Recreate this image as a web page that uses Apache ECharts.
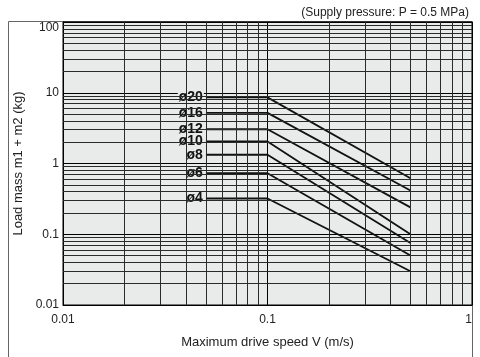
<!DOCTYPE html>
<html>
<head>
<meta charset="utf-8">
<script src="https://cdn.jsdelivr.net/npm/echarts@6/dist/echarts.min.js"></script>
<style>
html, body { margin: 0; padding: 0; background: #fff; }
#chart { width: 480px; height: 357px; }
</style>
</head>
<body>
<div id="chart"></div>
<script>
// speeds where each curve bends (m/s)
const speeds = [0.05, 0.1, 0.5];
// cylinder bores, top to bottom
const bores = ['ø20', 'ø16', 'ø12', 'ø10', 'ø8', 'ø6', 'ø4'];
// load mass (kg) at each speed above
const mass20 = [8.6, 8.6, 0.62];
const mass16 = [5.2, 5.2, 0.415];
const mass12 = [3.05, 3.05, 0.24];
const mass10 = [2.05, 2.05, 0.1];
const mass8 = [1.33, 1.33, 0.075];
const mass6 = [0.73, 0.73, 0.05];
const mass4 = [0.32, 0.32, 0.03];
const masses = [mass20, mass16, mass12, mass10, mass8, mass6, mass4];

// log grid lines at 2..9 of every decade
const xDecades = [0.01, 0.1];
const yDecades = [0.01, 0.1, 1, 10];
const steps = [2, 3, 4, 5, 6, 7, 8, 9];

const font = "'Liberation Sans', Arial, sans-serif";
const plotFill = '#e9eaea';

let gridLines = [];
xDecades.forEach(d => steps.forEach(k => gridLines.push({ xAxis: +(d * k).toPrecision(3) })));
yDecades.forEach(d => steps.forEach(k => gridLines.push({ yAxis: +(d * k).toPrecision(3) })));

let series = [{
	type: 'line',
	data: [],
	silent: true,
	z: 1,
	markLine: {
		silent: true,
		animation: false,
		symbol: ['none', 'none'],
		label: { show: false },
		emphasis: { disabled: true },
		lineStyle: { color: '#2a2a2a', width: 1, type: 'solid' },
		data: gridLines
	}
}];

bores.forEach((name, i) => {
	let data = speeds.map((v, j) => [v, masses[i][j]]);
	data[0] = {
		value: data[0],
		label: {
			show: true,
			formatter: name,
			position: 'left',
			distance: 2,
			fontFamily: font,
			fontWeight: 'bold',
			fontSize: 14,
			color: '#111',
			backgroundColor: plotFill,
			padding: [0, 1]
		}
	};
	series.push({
		name: name,
		type: 'line',
		z: 3,
		data: data,
		symbol: 'circle',
		symbolSize: 0.1,
		showSymbol: true,
		animation: false,
		lineStyle: { color: '#111', width: 1.8 },
		itemStyle: { color: '#111' },
		label: { show: false }
	});
});

const chart = echarts.init(document.getElementById('chart'));
chart.setOption({
	animation: false,
	title: {
		text: '(Supply pressure: P = 0.5 MPa)',
		right: 6,
		top: 2,
		textStyle: { fontFamily: font, fontSize: 12, fontWeight: 'normal', color: '#222' }
	},
	graphic: [{
		type: 'rect',
		z: -10,
		shape: { x: 8.5, y: 21.5, width: 464, height: 345 },
		style: { fill: 'transparent', stroke: '#666', lineWidth: 1 }
	}],
	grid: {
		left: 63,
		right: 8,
		top: 22,
		bottom: 52,
		show: true,
		backgroundColor: plotFill,
		borderColor: '#000',
		borderWidth: 1
	},
	xAxis: {
		type: 'log',
		logBase: 10,
		min: 0.01,
		max: 1,
		name: 'Maximum drive speed V (m/s)',
		nameLocation: 'middle',
		nameGap: 31,
		nameTextStyle: { fontFamily: font, fontSize: 13, color: '#222' },
		axisLine: { lineStyle: { color: '#000', width: 1 } },
		axisTick: { show: false },
		axisLabel: { fontFamily: font, fontSize: 12, color: '#222', margin: 9, alignMaxLabel: 'right' },
		splitLine: { show: true, lineStyle: { color: '#000', width: 1 } }
	},
	yAxis: {
		type: 'log',
		logBase: 10,
		min: 0.01,
		max: 100,
		name: 'Load mass m1 + m2 (kg)',
		nameLocation: 'middle',
		nameGap: 28,
		nameTextStyle: { fontFamily: font, fontSize: 13, color: '#222' },
		axisLine: { lineStyle: { color: '#000', width: 1 } },
		axisTick: { show: false },
		axisLabel: { fontFamily: font, fontSize: 12, color: '#222', margin: 4, verticalAlignMaxLabel: 'top' },
		splitLine: { show: true, lineStyle: { color: '#000', width: 1 } }
	},
	series: series
});
</script>
</body>
</html>
